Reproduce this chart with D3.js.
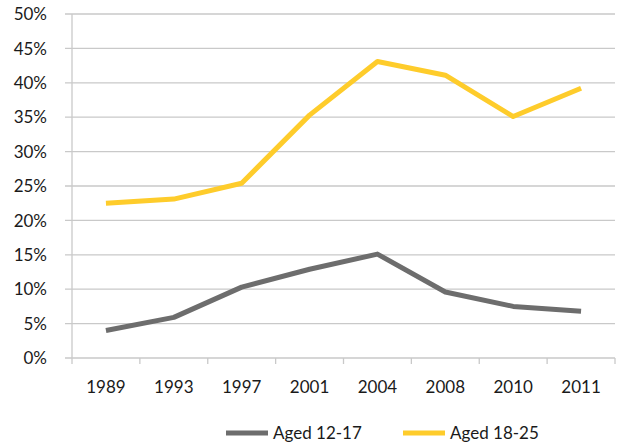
<!DOCTYPE html>
<html>
<head>
<meta charset="utf-8">
<script src="https://cdn.jsdelivr.net/npm/d3@7"></script>
<style>
  body { margin: 0; background: #fff; }
  text { font-family: Lato, "Liberation Sans", sans-serif; fill: #1a1a1a; }
</style>
</head>
<body>
<svg width="617" height="445"></svg>
<script>
// chart data
var years   = ["1989", "1993", "1997", "2001", "2004", "2008", "2010", "2011"];
var aged1217 = [4.0, 5.9, 10.3, 12.9, 15.1, 9.6, 7.5, 6.8];
var aged1825 = [22.5, 23.1, 25.4, 35.3, 43.1, 41.1, 35.1, 39.2];
var yTicks  = [0, 5, 10, 15, 20, 25, 30, 35, 40, 45, 50];
var seriesNames = ["Aged 12-17", "Aged 18-25"];
var colors  = ["#6d6d6d", "#fecc2b"];

var svg = d3.select("svg");
// NOTE: "top" clashes with window.top, so use plot* names
var plotLeft = 72, plotRight = 615, plotTop = 14, plotBottom = 358;

var x = d3.scaleBand().domain(years).range([plotLeft, plotRight]);
var y = d3.scaleLinear().domain([0, 50]).range([plotBottom, plotTop]);

// gridlines
svg.append("g")
  .selectAll("line")
  .data(yTicks)
  .enter().append("line")
    .attr("x1", plotLeft - 7)
    .attr("x2", plotRight)
    .attr("y1", function(d) { return y(d); })
    .attr("y2", function(d) { return y(d); })
    .attr("stroke", "#c9c9c9")
    .attr("stroke-width", 1.3);

// y axis line
svg.append("line")
  .attr("x1", plotLeft).attr("x2", plotLeft)
  .attr("y1", plotTop).attr("y2", plotBottom)
  .attr("stroke", "#c9c9c9").attr("stroke-width", 1.3);

// y labels
svg.append("g")
  .selectAll("text")
  .data(yTicks)
  .enter().append("text")
    .attr("x", 47)
    .attr("y", function(d) { return y(d); })
    .attr("dy", "0.36em")
    .attr("text-anchor", "end")
    .style("font-size", "17px")
    .text(function(d) { return d + "%"; });

// x axis ticks at band boundaries
var bounds = years.map(function(d) { return x(d); }).concat([plotRight]);
svg.append("g")
  .selectAll("line")
  .data(bounds)
  .enter().append("line")
    .attr("x1", function(d) { return d; })
    .attr("x2", function(d) { return d; })
    .attr("y1", plotBottom)
    .attr("y2", plotBottom + 6)
    .attr("stroke", "#c9c9c9")
    .attr("stroke-width", 1.3);

// x labels
svg.append("g")
  .selectAll("text")
  .data(years)
  .enter().append("text")
    .attr("x", function(d) { return x(d) + x.bandwidth() / 2; })
    .attr("y", 387)
    .attr("dy", "0.36em")
    .attr("text-anchor", "middle")
    .style("font-size", "17px")
    .text(function(d) { return d; });

// lines
var line = d3.line()
  .x(function(d, i) { return x(years[i]) + x.bandwidth() / 2; })
  .y(function(d) { return y(d); });

[aged1217, aged1825].forEach(function(s, i) {
  svg.append("path")
    .datum(s)
    .attr("d", line)
    .attr("fill", "none")
    .attr("stroke", colors[i])
    .attr("stroke-width", 5)
    .attr("stroke-linejoin", "round");
});

// legend
var legendX = [226, 403];
seriesNames.forEach(function(name, i) {
  svg.append("line")
    .attr("x1", legendX[i]).attr("x2", legendX[i] + 42)
    .attr("y1", 433).attr("y2", 433)
    .attr("stroke", colors[i]).attr("stroke-width", 5);
  svg.append("text")
    .attr("x", legendX[i] + 47)
    .attr("y", 433)
    .attr("dy", "0.36em")
    .style("font-size", "17px")
    .text(name);
});
</script>
</body>
</html>
